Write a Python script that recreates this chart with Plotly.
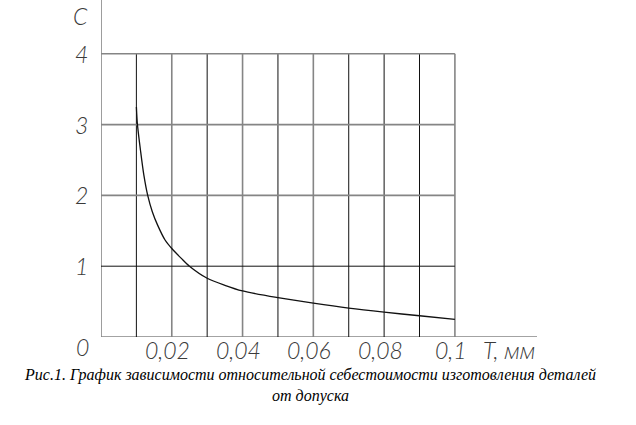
import plotly.graph_objects as go

# Data: relative cost C vs tolerance T (mm)
T_values = [0.0100, 0.0103, 0.0112, 0.0121, 0.0132, 0.0145, 0.0160, 0.0181,
            0.0200, 0.0227, 0.0250, 0.0300, 0.0350, 0.0400, 0.0500, 0.0600,
            0.0700, 0.0800, 0.0900, 0.1000]
C_values = [3.25, 3.00, 2.62, 2.29, 2.00, 1.77, 1.58, 1.37,
            1.25, 1.11, 1.00, 0.83, 0.73, 0.65, 0.555, 0.477,
            0.407, 0.350, 0.300, 0.250]

x_grid = [0.01, 0.02, 0.03, 0.04, 0.05, 0.06, 0.07, 0.08, 0.09, 0.10]
x_grid_dark = [True, False, True, False, True, False, True, True, True, False]
y_grid = [1, 2, 3, 4]
y_grid_dark = [True, False, False, False]

x_tick_vals = [0.02, 0.04, 0.06, 0.08, 0.10]
x_tick_text = ["0,02", "0,04", "0,06", "0,08", "0,1"]
y_tick_vals = [1, 2, 3, 4]
y_tick_text = ["1", "2", "3", "4"]

x_title = "T, мм"
y_title = "C"
caption = ("Рис.1. График зависимости относительной себестоимости изготовления деталей"
           "<br>от допуска")

DARK = "#111111"
GRAY = "#858585"
TXT = "#3a3a3a"
lab_font = dict(family="Lato", size=23, color=TXT, style="italic", weight=300)

fig = go.Figure()
fig.add_trace(go.Scatter(x=T_values, y=C_values, mode="lines",
                         line=dict(color="#111111", width=1.3, shape="spline", smoothing=0.8),
                         hoverinfo="skip", showlegend=False))

shapes = []
x_max_grid = max(x_grid)
y_max_grid = max(y_grid)
for xv, dark in zip(x_grid, x_grid_dark):
    shapes.append(dict(type="line", xref="x", yref="y", x0=xv, x1=xv, y0=0, y1=y_max_grid,
                       line=dict(color=DARK if dark else GRAY, width=1 if dark else 1.6),
                       layer="below"))
for yv, dark in zip(y_grid, y_grid_dark):
    shapes.append(dict(type="line", xref="x", yref="y", x0=0, x1=x_max_grid, y0=yv, y1=yv,
                       line=dict(color=DARK if dark else GRAY, width=1 if dark else 1.6),
                       layer="below"))
# axes
shapes.append(dict(type="line", xref="x", yref="paper", x0=0, x1=0, y0=0, y1=1,
                   line=dict(color=GRAY, width=1.6), layer="below"))
shapes.append(dict(type="line", xref="paper", yref="y", x0=0, x1=1, y0=0, y1=0,
                   line=dict(color=GRAY, width=1.6), layer="below"))

annotations = []
for xv, txt in zip(x_tick_vals, x_tick_text):
    annotations.append(dict(x=xv, y=0, xref="x", yref="y", text=txt, showarrow=False,
                            xanchor="center", yanchor="top", xshift=-4, yshift=3,
                            font=lab_font))
for yv, txt in zip(y_tick_vals, y_tick_text):
    annotations.append(dict(x=0, y=yv, xref="x", yref="y", text=txt, showarrow=False,
                            xanchor="right", yanchor="middle", xshift=-11,
                            font=lab_font))
annotations.append(dict(x=0, y=0, xref="x", yref="y", text="0", showarrow=False,
                        xanchor="right", yanchor="top", xshift=-10, yshift=6, font=lab_font))
annotations.append(dict(x=1, y=0, xref="paper", yref="y", text=x_title, showarrow=False,
                        xanchor="right", yanchor="top", yshift=3, font=lab_font))
annotations.append(dict(x=0, y=1, xref="x", yref="paper", text=y_title, showarrow=False,
                        xanchor="right", yanchor="top", xshift=-11, yshift=0, font=lab_font))
annotations.append(dict(x=0.48, y=0, xref="paper", yref="paper", text=caption, showarrow=False,
                        xanchor="center", yanchor="top", yshift=-27,
                        font=dict(family="Liberation Serif", size=16, color="#000000",
                                  style="italic")))

fig.update_layout(
    width=636, height=425,
    margin=dict(l=101, r=99, t=0, b=88),
    paper_bgcolor="white", plot_bgcolor="white",
    xaxis=dict(range=[0, 0.1232], visible=False, fixedrange=True),
    yaxis=dict(range=[0, 4.76], visible=False, fixedrange=True),
    shapes=shapes, annotations=annotations, showlegend=False,
)
fig.write_html("out.html", config={"displayModeBar": False},
               post_script="document.body.style.margin='0';")
